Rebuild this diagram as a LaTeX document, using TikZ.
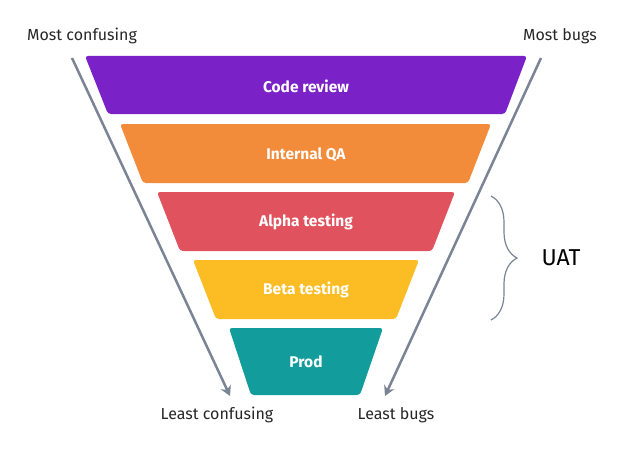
\documentclass[tikz,border=0pt]{standalone}
\usepackage{fontspec}
\setmainfont{Fira Sans}
\usetikzlibrary{decorations.pathreplacing,arrows.meta}
\definecolor{cpur}{HTML}{7A22C8}
\definecolor{corg}{HTML}{F28B3A}
\definecolor{cred}{HTML}{E0525E}
\definecolor{cyel}{HTML}{FBBD23}
\definecolor{ctea}{HTML}{139C9C}
\definecolor{cgry}{HTML}{7A8494}
\begin{document}
\begin{tikzpicture}[x=1pt,y=-1pt,
  tz/.style={rounded corners=3pt},
  tl/.style={text=white,font=\bfseries\fontsize{15.5}{18}\selectfont},
  lb/.style={font=\fontsize{16}{19}\selectfont,text=black!85},
  ar/.style={draw=cgry,line width=2.5pt,-{Stealth[length=10pt,width=11pt]}}]
\useasboundingbox (0,0) rectangle (624,452);
\fill[cpur,tz] (85,56) -- (527,56) -- (505,114) -- (108,114) -- cycle;
\fill[corg,tz] (120,124) -- (491,124) -- (468,183) -- (143,183) -- cycle;
\fill[cred,tz] (157,192) -- (455,192) -- (432,251) -- (180,251) -- cycle;
\fill[cyel,tz] (193,260) -- (419,260) -- (396,319) -- (216,319) -- cycle;
\fill[ctea,tz] (229,328) -- (383,328) -- (360,395) -- (251,395) -- cycle;
\node[tl] (t1) at (306,86) {Code review};
\node[tl] (t2) at (306,155) {Internal QA};
\node[tl] (t3) at (306,222) {Alpha testing};
\node[tl] (t4) at (306,290) {Beta testing};
\node[tl] (t5) at (306,362) {Prod};
\node[lb] (mc) at (82,36) {Most confusing};
\node[lb] (mb) at (560,36) {Most bugs};
\node[lb] (lc) at (217,415) {Least confusing};
\node[lb] (lbg) at (396,415) {Least bugs};
\coordinate (a1) at (72,58); \coordinate (a2) at (230,396);
\coordinate (b1) at (541,58); \coordinate (b2) at (385,396);
\draw[ar] (a1) -- (a2);
\draw[ar] (b1) -- (b2);
\draw[cgry,line width=1.2pt,decorate,decoration={brace,amplitude=26pt,aspect=0.5}] (491,196) -- (491,320);
\node[font=\fontsize{23}{27}\selectfont] (uat) at (561,258) {UAT};
\end{tikzpicture}
\end{document}
